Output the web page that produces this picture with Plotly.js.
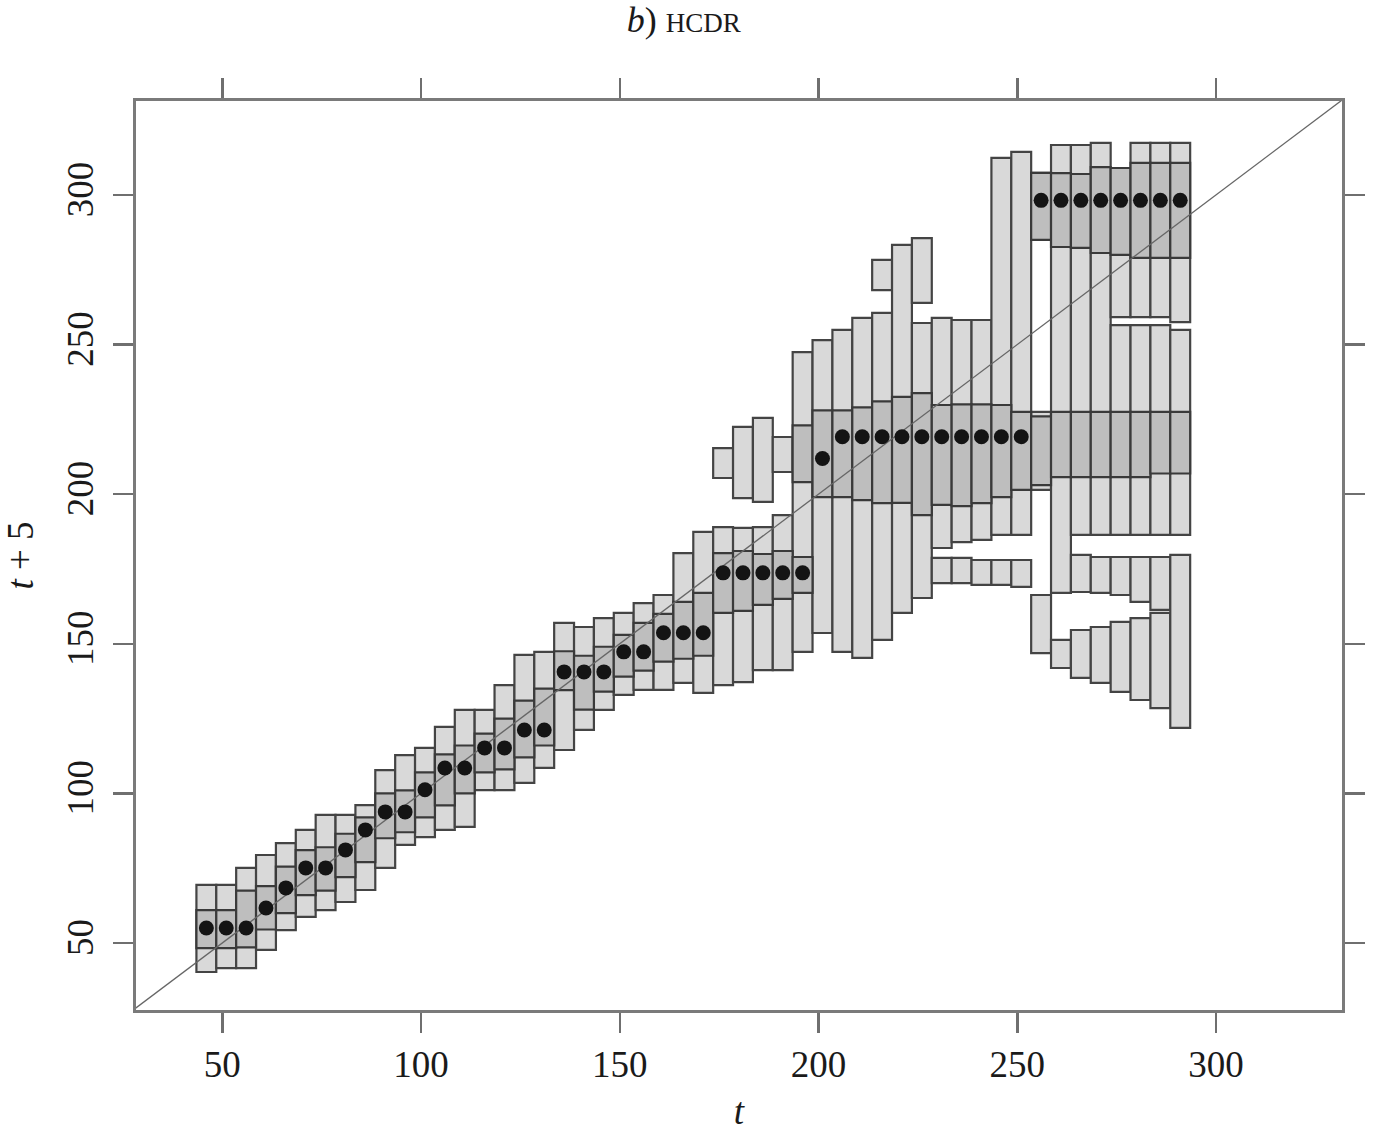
<!DOCTYPE html>
<html><head><meta charset="utf-8">
<script src="https://cdn.plot.ly/plotly-3.0.1.min.js"></script>
<style>html,body{margin:0;padding:0;background:#fff}</style>
</head><body>
<div id="chart" style="width:1376px;height:1132px"></div>
<script>
// Forecast origin t (x) and the mode of the conditional density of t+5
const tValues = [46,51,56,61,66,71,76,81,86,91,96,101,106,111,116,121,126,131,136,141,146,151,156,161,166,171,176,181,186,191,196,201,206,211,216,221,226,231,236,241,246,251,256,261,266,271,276,281,286,291];
const modeValues = [55.0,55.0,55.0,61.7,68.4,75.1,75.1,81.1,87.8,93.8,93.8,101.2,108.5,108.5,115.2,115.2,121.2,121.2,140.6,140.6,140.6,147.3,147.3,153.7,153.7,153.7,173.7,173.7,173.7,173.7,173.7,211.9,219.2,219.2,219.2,219.2,219.2,219.2,219.2,219.2,219.2,219.2,298.2,298.2,298.2,298.2,298.2,298.2,298.2,298.2];

// Outer HDR intervals (one entry per interval)
const outerT  = [46,51,56,61,66,71,76,81,86,91,96,101,106,111,116,121,126,131,136,141,146,151,156,161,166,171,
  176,176,181,181,186,186,191,191,196,201,206,211,216,216,221,226,226,231,231,236,236,241,241,246,246,251,251,
  256,256,256,261,261,266,266,266,271,271,271,276,276,276,276,281,281,281,281,286,286,286,286,291,291,291];
const outerLo = [40.3,41.6,41.6,47.7,54.3,58.7,61.0,63.7,67.7,75.1,82.8,85.4,87.8,88.8,101.1,101.1,103.5,108.5,114.5,121.2,127.9,132.9,134.6,134.6,136.9,133.6,
  136.2,205.4,137.2,198.7,141.2,197.4,141.2,207.4,147.3,153.6,147.3,145.3,151.3,268.2,160.3,165.3,263.9,182.0,170.3,184.0,170.3,184.7,169.7,186.4,169.7,186.4,169.0,
  285.0,201.4,146.9,167.0,141.9,186.4,167.3,138.6,186.4,167.0,136.9,259.2,186.4,166.3,133.9,259.2,186.4,164.0,131.2,259.2,186.4,161.3,128.5,257.5,186.4,121.9];
const outerHi = [69.4,69.4,75.1,79.4,83.4,87.8,92.8,92.8,96.1,107.8,112.8,115.2,122.2,127.9,127.9,136.2,146.3,147.3,157.0,155.6,158.6,160.3,163.6,166.3,180.3,187.4,
  189.0,215.4,188.7,222.5,189.0,225.5,193.0,219.1,247.5,251.5,254.9,258.9,260.6,278.3,283.3,257.2,285.6,258.9,178.7,258.2,178.7,258.2,178.0,312.4,178.0,314.4,178.0,
  307.4,227.5,166.3,316.7,151.3,316.7,179.7,154.6,317.4,179.0,155.6,309.0,256.5,179.0,157.3,317.4,256.5,179.0,158.6,317.4,256.5,179.0,160.3,317.4,254.9,179.7];

// Inner (50%) HDR intervals
const innerT  = [46,51,56,61,66,71,76,81,86,91,96,101,106,111,116,121,126,131,136,141,146,151,156,161,166,171,176,181,186,191,
  196,196,201,206,211,216,221,226,231,236,241,246,251,256,256,261,261,266,266,271,271,276,276,281,281,286,286,291,291];
const innerLo = [48.3,48.3,48.5,54.5,60.0,66.0,67.5,72.0,77.0,85.0,87.0,92.0,96.0,100.0,107.0,108.0,112.0,116.0,134.5,128.0,134.0,139.0,141.0,144.0,145.0,146.0,160.3,161.0,163.0,165.0,
  167.0,204.0,199.0,199.0,198.0,197.0,197.1,193.0,196.4,196.0,197.0,199.0,201.4,285.0,203.0,282.6,205.7,282.3,205.7,280.6,205.7,280.0,205.7,279.0,205.7,279.0,206.9,279.0,206.9];
const innerHi = [61.0,61.0,67.5,69.0,75.5,81.0,82.0,86.5,92.0,100.0,101.0,107.0,113.0,116.0,120.0,125.0,131.0,135.0,147.5,146.0,149.0,153.0,157.0,160.0,164.0,167.0,180.3,181.0,180.0,181.0,
  179.0,223.0,228.0,228.0,229.0,231.0,232.5,233.8,229.8,230.0,230.0,229.8,227.5,307.4,226.0,307.3,227.5,307.0,227.5,309.3,227.5,309.0,227.5,310.7,227.5,310.7,227.5,310.7,227.5];

const tickVals = [50,100,150,200,250,300];
const xRange = [28.3, 331.7];
const yRange = [27.6, 331.4];
const diagonal = [0, 400];

const barWidth = 5;
const heights = (lo, hi) => hi.map((h, i) => h - lo[i]);

const traces = [
  {type:'bar', x: outerT, base: outerLo, y: heights(outerLo, outerHi), width: barWidth,
   marker:{color:'#d9d9d9', line:{color:'#444444', width:2.2}}, hoverinfo:'skip', showlegend:false},
  {type:'bar', x: innerT, base: innerLo, y: heights(innerLo, innerHi), width: barWidth,
   marker:{color:'#bebebe', line:{color:'#3a3a3a', width:2.2}}, hoverinfo:'skip', showlegend:false},
  {type:'scatter', mode:'lines', x: diagonal, y: diagonal, line:{color:'#666666', width:1.3},
   hoverinfo:'skip', showlegend:false},
  {type:'scatter', mode:'markers', x: tValues, y: modeValues,
   marker:{color:'#141414', size:15}, hoverinfo:'skip', showlegend:false}
];

const tickFont = {family:'Liberation Serif, DejaVu Serif, serif', size:37, color:'#1a1a1a'};
const axisCommon = {
  tickvals: tickVals, ticks:'outside', ticklen:20, tickwidth:2.5, tickcolor:'#6f6f6f',
  showline:true, linecolor:'#7a7a7a', linewidth:3, mirror:'allticks',
  showgrid:false, zeroline:false, tickfont: tickFont
};

const layout = {
  width:1376, height:1132,
  margin:{l:136, r:34, t:101, b:122},
  paper_bgcolor:'#ffffff', plot_bgcolor:'#ffffff',
  barmode:'overlay',
  title:{text:"<i>b</i>) <span style='font-size:27px'>HCDR</span>",
         font:{family:'Liberation Serif, DejaVu Serif, serif', size:36, color:'#1a1a1a'},
         xref:'container', yref:'container', x:0.497, y:0.983, xanchor:'center', yanchor:'middle'},
  xaxis: Object.assign({}, axisCommon, {range:xRange, ticklabelstandoff:0,
    title:{text:'<i>t</i>', font:{family:'Liberation Serif, DejaVu Serif, serif', size:37, color:'#1a1a1a'}, standoff:42}}),
  yaxis: Object.assign({}, axisCommon, {range:yRange, tickangle:-90, ticklabelstandoff:5,
    title:{text:'<i>t</i> + 5', font:{family:'Liberation Serif, DejaVu Serif, serif', size:37, color:'#1a1a1a'}, standoff:36}})
};

Plotly.newPlot('chart', traces, layout, {staticPlot:true, displayModeBar:false});
</script>
</body></html>
